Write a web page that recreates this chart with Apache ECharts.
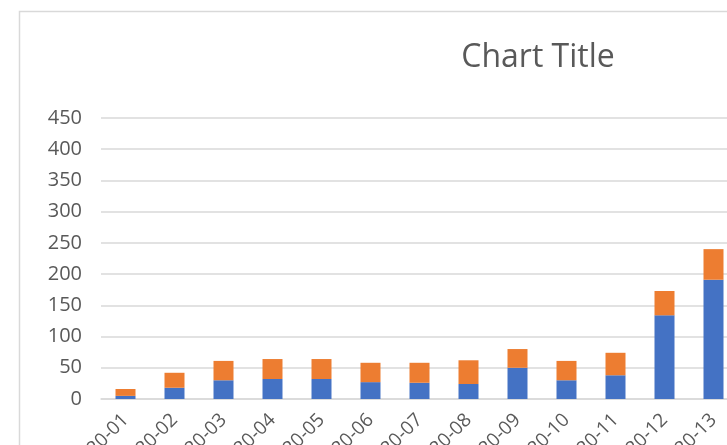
<!DOCTYPE html>
<html>
<head>
<meta charset="utf-8">
<script src="https://cdn.jsdelivr.net/npm/echarts@6/dist/echarts.min.js"></script>
<style>
html,body{margin:0;padding:0;background:#fff;}
#chart{width:727px;height:445px;}
</style>
</head>
<body>
<div id="chart"></div>
<script>
var categories = ['2020-01','2020-02','2020-03','2020-04','2020-05','2020-06','2020-07','2020-08','2020-09','2020-10','2020-11','2020-12','2020-13'];
var seriesBlue = [5, 18, 30, 32, 32, 27, 26, 24, 50, 30, 38, 134, 191];
var seriesOrange = [11, 24, 31, 32, 32, 31, 32, 38, 30, 31, 36, 39, 49];
var yTicks = [0, 50, 100, 150, 200, 250, 300, 350, 400, 450];

var chart = echarts.init(document.getElementById('chart'), null, {renderer: 'canvas'});
var font = 'Open Sans';
chart.setOption({
  animation: false,
  backgroundColor: '#ffffff',
  title: {
    text: 'Chart Title',
    left: 533,
    textAlign: 'center',
    top: 37,
    textStyle: {fontFamily: font, fontSize: 32, fontWeight: 'normal', color: '#595959'}
  },
  graphic: [{
    type: 'rect',
    shape: {x: 19.5, y: 11.5, width: 800, height: 500},
    style: {fill: 'none', stroke: '#D9D9D9', lineWidth: 1.5},
    silent: true
  }],
  grid: {left: 101, right: -11, top: 118, bottom: 46, containLabel: false, outerBoundsMode: 'none'},
  xAxis: {
    type: 'category',
    data: categories,
    axisLine: {show: true, lineStyle: {color: '#D9D9D9', width: 1.5}},
    axisTick: {show: false},
    axisLabel: {rotate: 45, interval: 0, margin: 18, fontFamily: font, fontSize: 19, color: '#595959'}
  },
  yAxis: {
    type: 'value',
    min: yTicks[0],
    max: yTicks[yTicks.length - 1],
    interval: 50,
    axisLine: {show: false},
    axisTick: {show: false},
    splitLine: {lineStyle: {color: '#D9D9D9', width: 1.5}},
    axisLabel: {margin: 19, fontFamily: font, fontSize: 20, color: '#595959'}
  },
  series: [
    {name: 'Series1', type: 'bar', stack: 'total', barWidth: 20, data: seriesBlue, itemStyle: {color: '#4472C4'}},
    {name: 'Series2', type: 'bar', stack: 'total', barWidth: 20, data: seriesOrange, itemStyle: {color: '#ED7D31'}}
  ]
});
</script>
</body>
</html>
